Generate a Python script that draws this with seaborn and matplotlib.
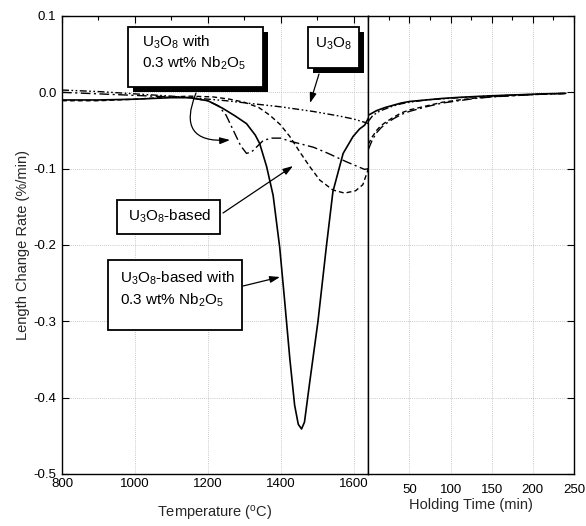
import matplotlib
matplotlib.use("Agg")
import matplotlib.pyplot as plt
from matplotlib.ticker import MultipleLocator, FormatStrFormatter
from matplotlib.patches import Rectangle
import seaborn as sns

# --- data ------------------------------------------------------------------
# heating ramp (temperature, degC) ------------------------------------------
temp_nb_based = [800, 900, 1000, 1100, 1150, 1200, 1241, 1275, 1306, 1330, 1342,
                 1361, 1379, 1397, 1410, 1425, 1438, 1448, 1457, 1465, 1479,
                 1502, 1525, 1543, 1571, 1598, 1616, 1630, 1640]
rate_nb_based = [-0.010, -0.010, -0.009, -0.007, -0.007, -0.011, -0.021, -0.031,
                 -0.041, -0.056, -0.067, -0.097, -0.135, -0.203, -0.270, -0.350,
                 -0.410, -0.435, -0.441, -0.432, -0.381, -0.300, -0.202, -0.130,
                 -0.080, -0.058, -0.048, -0.043, -0.034]

temp_u3o8_nb = [800, 900, 1000, 1100, 1150, 1200, 1230, 1250, 1270, 1290, 1306,
                1320, 1335, 1352, 1375, 1400, 1425, 1450, 1490, 1530, 1580,
                1610, 1630, 1640]
rate_u3o8_nb = [0.000, -0.002, -0.004, -0.006, -0.007, -0.011, -0.018, -0.030,
                -0.050, -0.070, -0.080, -0.078, -0.071, -0.063, -0.060, -0.060,
                -0.064, -0.067, -0.072, -0.080, -0.091, -0.097, -0.101, -0.100]

temp_based = [800, 900, 1000, 1100, 1150, 1214, 1260, 1300, 1340, 1370, 1398,
              1425, 1452, 1479, 1507, 1543, 1575, 1605, 1625, 1636, 1640]
rate_based = [-0.011, -0.011, -0.009, -0.006, -0.005, -0.006, -0.009, -0.013,
              -0.020, -0.030, -0.042, -0.058, -0.078, -0.097, -0.115, -0.128,
              -0.132, -0.129, -0.121, -0.106, -0.100]

temp_u3o8 = [800, 900, 1000, 1100, 1178, 1250, 1306, 1400, 1488, 1560, 1600,
             1635, 1640]
rate_u3o8 = [0.003, 0.001, -0.002, -0.005, -0.008, -0.011, -0.014, -0.019,
             -0.025, -0.031, -0.035, -0.040, -0.041]

# isothermal hold (time, min) -------------------------------------------------
hold_time = [0, 5, 10, 15, 20, 30, 40, 50, 70, 90, 110, 130, 150, 175, 200, 220, 240]
hold_nb_based = [-0.030, -0.027, -0.024, -0.022, -0.020, -0.017, -0.014, -0.012,
                 -0.010, -0.008, -0.0066, -0.0055, -0.0045, -0.0035, -0.0025,
                 -0.0018, -0.0013]
hold_u3o8 = [-0.038, -0.031, -0.027, -0.024, -0.022, -0.018, -0.015, -0.013,
             -0.010, -0.0085, -0.007, -0.0058, -0.0047, -0.0037, -0.0027,
             -0.0020, -0.0014]
hold_u3o8_nb = [-0.075, -0.062, -0.053, -0.047, -0.042, -0.035, -0.029, -0.025,
                -0.019, -0.014, -0.011, -0.008, -0.006, -0.0045, -0.0030,
                -0.0020, -0.0015]
hold_based = [-0.068, -0.058, -0.050, -0.044, -0.040, -0.033, -0.027, -0.023,
              -0.018, -0.013, -0.010, -0.0075, -0.0058, -0.0042, -0.0030,
              -0.0020, -0.0015]

temp_ticks = [800, 1000, 1200, 1400, 1600]
time_ticks = [50, 100, 150, 200, 250]

# --- style --------------------------------------------------------------------
sns.set_style("white")
plt.rcParams["font.family"] = ["Liberation Sans", "DejaVu Sans"]
plt.rcParams["mathtext.fontset"] = "custom"
plt.rcParams["mathtext.rm"] = "Liberation Sans"
plt.rcParams["mathtext.it"] = "Liberation Sans:italic"
plt.rcParams["axes.unicode_minus"] = False

W, H = 586, 526
fig = plt.figure(figsize=(W / 100, H / 100), dpi=100)
x0, x_split, x1, y_top, y_bot = 62, 368.3, 574, 16, 474
ax_t = fig.add_axes([x0 / W, 1 - y_bot / H, (x_split - x0) / W, (y_bot - y_top) / H])
ax_h = fig.add_axes([x_split / W, 1 - y_bot / H, (x1 - x_split) / W, (y_bot - y_top) / H],
                    sharey=ax_t)

styles = {
    "nb_based": dict(linestyle="-", linewidth=1.2),
    "u3o8_nb": dict(linestyle=(0, (7, 2.5, 1.5, 2.5)), linewidth=1.0),
    "based": dict(linestyle=(0, (3.5, 2.2)), linewidth=1.0),
    "u3o8": dict(linestyle=(0, (5, 1.8, 1.2, 1.8, 1.2, 1.8)), linewidth=1.0),
}
left = {"nb_based": (temp_nb_based, rate_nb_based),
        "u3o8_nb": (temp_u3o8_nb, rate_u3o8_nb),
        "based": (temp_based, rate_based),
        "u3o8": (temp_u3o8, rate_u3o8)}
right = {"nb_based": hold_nb_based, "u3o8_nb": hold_u3o8_nb,
         "based": hold_based, "u3o8": hold_u3o8}

for key, (tx, ty) in left.items():
    sns.lineplot(x=tx, y=ty, ax=ax_t, color="black", **styles[key])
    sns.lineplot(x=hold_time, y=right[key], ax=ax_h, color="black", **styles[key])

# --- axes ---------------------------------------------------------------------
ax_t.set_xlim(800, 1640)
ax_h.set_xlim(0, 250)
ax_t.set_ylim(-0.5, 0.1)

ax_t.set_xticks(temp_ticks)
ax_t.xaxis.set_minor_locator(MultipleLocator(100))
ax_h.set_xticks(time_ticks)
ax_h.xaxis.set_minor_locator(MultipleLocator(25))
ax_t.yaxis.set_major_locator(MultipleLocator(0.1))
ax_t.yaxis.set_minor_locator(MultipleLocator(0.05))
ax_t.yaxis.set_major_formatter(FormatStrFormatter("%.1f"))

for ax in (ax_t, ax_h):
    ax.grid(True, which="major", linestyle=(0, (1, 1.5)), color="#b8b8b8", linewidth=0.6)
    for s in ax.spines.values():
        s.set_color("black")
        s.set_linewidth(1.0)
    ax.tick_params(which="both", direction="in", top=True, colors="black",
                   labelsize=9.5)
    ax.tick_params(which="major", length=5, width=0.8)
    ax.tick_params(which="minor", length=3, width=0.8)

ax_t.tick_params(axis="y", left=True, right=False, pad=4)
ax_t.tick_params(axis="x", pad=3)
ax_h.tick_params(axis="y", left=False, right=True, labelleft=False)
ax_h.tick_params(axis="x", pad=7)

ax_t.set_xlabel("Temperature ($^\\mathrm{o}$C)", fontsize=10.5)
ax_t.xaxis.set_label_coords(0.5, -0.066)
ax_h.set_xlabel("Holding Time (min)", fontsize=10.5)
ax_h.xaxis.set_label_coords(0.5, -0.052)
ax_t.set_ylabel("Length Change Rate (%/min)", fontsize=10.5)
ax_t.yaxis.set_label_coords(-0.105, 0.5)


# --- labelled boxes and arrows (positions in figure pixels) --------------------
def fp(px, py):
    return px / W, 1 - py / H


def box(px0, py0, px1, py1, shadow=0):
    if shadow:
        fig.patches.append(Rectangle(fp(px0 + shadow, py1 + shadow), (px1 - px0) / W,
                                     (py1 - py0) / H, transform=fig.transFigure,
                                     facecolor="black", edgecolor="none", zorder=5))
    fig.patches.append(Rectangle(fp(px0, py1), (px1 - px0) / W, (py1 - py0) / H,
                                 transform=fig.transFigure, facecolor="white",
                                 edgecolor="black", linewidth=1.3, zorder=6))


def arrow(start, end, rad=0.0):
    ax_t.annotate("", xy=fp(*end), xycoords="figure fraction",
                  xytext=fp(*start), textcoords="figure fraction",
                  arrowprops=dict(arrowstyle="-|>,head_length=0.6,head_width=0.2",
                                  color="black", lw=0.9, shrinkA=0, shrinkB=0,
                                  connectionstyle=f"arc3,rad={rad}"),
                  annotation_clip=False, zorder=7)


txt = dict(fontsize=11, color="black", zorder=8, va="center", ha="left")

box(128, 27, 263, 87, shadow=5)
fig.text(*fp(142, 42), "U$_3$O$_8$ with", **txt)
fig.text(*fp(142, 63), "0.3 wt% Nb$_2$O$_5$", **txt)

box(308, 27, 359, 68, shadow=5)
fig.text(*fp(333.5, 44), "U$_3$O$_8$", **{**txt, "ha": "center"})

box(117, 200, 220, 234)
fig.text(*fp(128, 216), "U$_3$O$_8$-based", **txt)

box(108, 260, 242, 330)
fig.text(*fp(120, 278), "U$_3$O$_8$-based with", **txt)
fig.text(*fp(120, 300), "0.3 wt% Nb$_2$O$_5$", **txt)

arrow((196, 93), (230, 140), rad=0.8)
arrow((319, 74), (310, 103))
arrow((223, 213), (293, 166))
arrow((243, 286), (280, 277))

fig.savefig("out.png", dpi=100)
plt.close(fig)
